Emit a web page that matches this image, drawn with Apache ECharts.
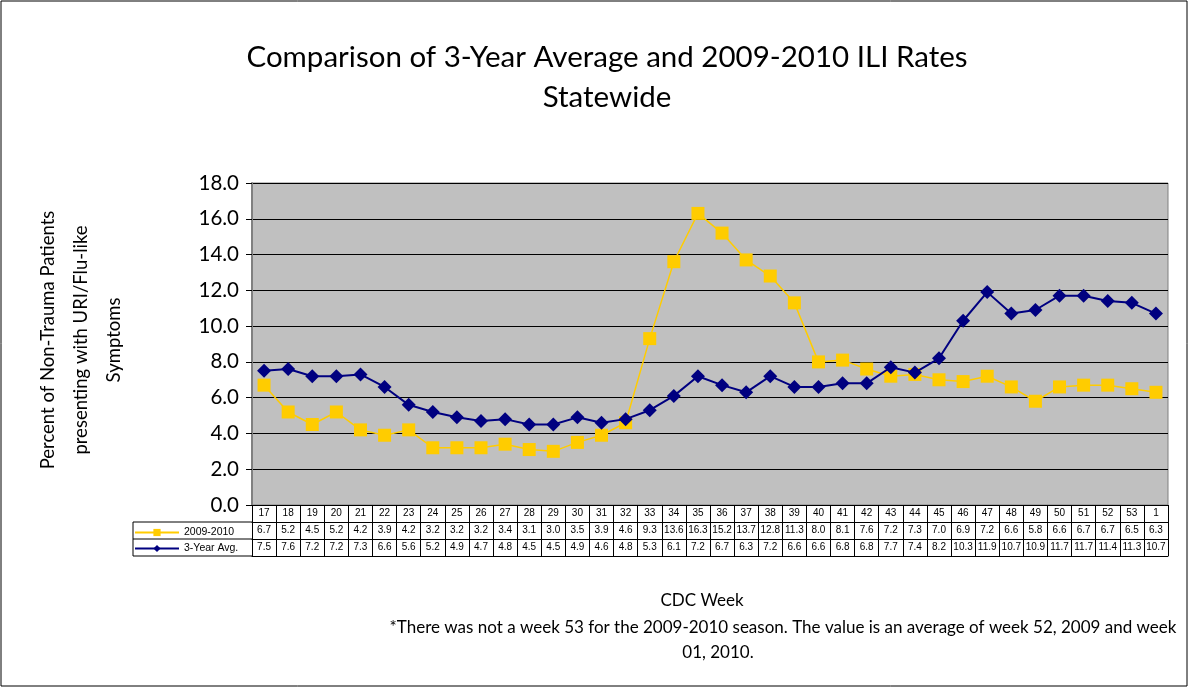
<!DOCTYPE html>
<html>
<head>
<meta charset="utf-8">
<script src="https://cdn.jsdelivr.net/npm/echarts@6/dist/echarts.min.js"></script>
<style>
html,body{margin:0;padding:0;background:#fff;}
#chart{width:1189px;height:688px;}
</style>
</head>
<body>
<div id="chart"></div>
<script>
// ---- data ----
const weeks = ['17','18','19','20','21','22','23','24','25','26','27','28','29','30','31','32','33','34','35','36','37','38','39','40','41','42','43','44','45','46','47','48','49','50','51','52','53','1'];
const season0910 = [6.7,5.2,4.5,5.2,4.2,3.9,4.2,3.2,3.2,3.2,3.4,3.1,3.0,3.5,3.9,4.6,9.3,13.6,16.3,15.2,13.7,12.8,11.3,8.0,8.1,7.6,7.2,7.3,7.0,6.9,7.2,6.6,5.8,6.6,6.7,6.7,6.5,6.3];
const avg3yr = [7.5,7.6,7.2,7.2,7.3,6.6,5.6,5.2,4.9,4.7,4.8,4.5,4.5,4.9,4.6,4.8,5.3,6.1,7.2,6.7,6.3,7.2,6.6,6.6,6.8,6.8,7.7,7.4,8.2,10.3,11.9,10.7,10.9,11.7,11.7,11.4,11.3,10.7];
const yTicks = {min: 0, max: 18, interval: 2};
const seriesNames = ['2009-2010', '3-Year Avg.'];
const titleLines = ['Comparison of 3-Year Average and 2009-2010 ILI Rates', 'Statewide'];
const yName = ['Percent of Non-Trauma Patients', 'presenting with URI/Flu-like', 'Symptoms'];
const xName = 'CDC Week';
const footnote = ['*There was not a week 53 for the 2009-2010 season. The value is an average of week 52, 2009 and week', '01, 2010.'];

// ---- layout ----
const G = {left: 252, right: 21, top: 183, bottom: 183};
const ROW = 17;
const plotBottom = 688 - G.bottom;
const tableLeft = 133;
const FONT = 'Lato';
const TFONT = 'Liberation Sans';

const chart = echarts.init(document.getElementById('chart'));

function rowAxis(offset, labelFn) {
  return {
    type: 'category', data: weeks, position: 'bottom', offset: offset, gridIndex: 0,
    boundaryGap: true,
    axisLine: {show: true, lineStyle: {color: '#000', width: 1}},
    axisTick: {show: true, interval: 0, length: ROW, alignWithLabel: false, lineStyle: {color: '#000', width: 1}},
    axisLabel: {show: true, interval: 0, margin: 3, fontSize: 10, fontFamily: TFONT, color: '#000', formatter: labelFn},
    splitLine: {show: false}
  };
}

const option = {
  animation: false,
  backgroundColor: '#fff',
  title: [
    {text: titleLines.join('\n'), left: 602, top: 32, textAlign: 'center',
     textStyle: {fontFamily: FONT, fontWeight: 'normal', fontSize: 29.5, color: '#000', lineHeight: 40}},
    {text: xName, left: 697, top: 587, textAlign: 'center',
     textStyle: {fontFamily: FONT, fontWeight: 'normal', fontSize: 17, color: '#000'}},
    {text: footnote[0], left: 778, top: 614, textAlign: 'center',
     textStyle: {fontFamily: FONT, fontWeight: 'normal', fontSize: 17, color: '#000'}},
    {text: footnote[1], left: 713, top: 639, textAlign: 'center',
     textStyle: {fontFamily: FONT, fontWeight: 'normal', fontSize: 17, color: '#000'}}
  ],
  legend: {
    orient: 'vertical', left: 134, top: 527, itemGap: 5, itemWidth: 44, itemHeight: 9, padding: 0,
    textStyle: {fontFamily: TFONT, fontSize: 10.5, color: '#000'},
    data: seriesNames
  },
  grid: {left: G.left, right: G.right, top: G.top, bottom: G.bottom, show: true,
         backgroundColor: '#C0C0C0', borderColor: '#808080', borderWidth: 1, containLabel: false},
  xAxis: [
    rowAxis(0, (v) => v),
    rowAxis(ROW, (v, i) => season0910[i].toFixed(1)),
    rowAxis(ROW * 2, (v, i) => avg3yr[i].toFixed(1)),
    {type: 'category', data: weeks, position: 'bottom', offset: ROW * 3,
     axisLine: {show: true, lineStyle: {color: '#000', width: 1}},
     axisTick: {show: false}, axisLabel: {show: false}, splitLine: {show: false}}
  ],
  yAxis: {
    type: 'value', min: yTicks.min, max: yTicks.max, interval: yTicks.interval,
    axisLine: {show: true, lineStyle: {color: '#808080', width: 2}},
    axisTick: {show: true, length: 6, lineStyle: {color: '#000'}},
    axisLabel: {fontFamily: FONT, fontSize: 20.5, color: '#000', margin: 13,
                formatter: (v) => v.toFixed(1)},
    splitLine: {show: true, lineStyle: {color: '#000', width: 1}}
  },
  series: [
    {name: seriesNames[0], type: 'line', data: season0910, xAxisIndex: 0,
     symbol: 'rect', symbolSize: 13,
     itemStyle: {color: '#FFCC00'}, lineStyle: {color: '#FFCC00', width: 1.5}, z: 3},
    {name: seriesNames[1], type: 'line', data: avg3yr, xAxisIndex: 0,
     symbol: 'diamond', symbolSize: 14,
     itemStyle: {color: '#000080'}, lineStyle: {color: '#000080', width: 2}, z: 4}
  ],
  graphic: [
    {type: 'rect', shape: {x: 1, y: 1, width: 1186, height: 685}, style: {fill: null, stroke: '#000', lineWidth: 1}, silent: true},
    {type: 'line', shape: {x1: tableLeft, y1: plotBottom + ROW, x2: G.left, y2: plotBottom + ROW}, style: {stroke: '#000', lineWidth: 1}},
    {type: 'line', shape: {x1: tableLeft, y1: plotBottom + ROW * 2, x2: G.left, y2: plotBottom + ROW * 2}, style: {stroke: '#000', lineWidth: 1}},
    {type: 'line', shape: {x1: tableLeft, y1: plotBottom + ROW * 3, x2: G.left, y2: plotBottom + ROW * 3}, style: {stroke: '#000', lineWidth: 1}},
    {type: 'line', shape: {x1: tableLeft, y1: plotBottom + ROW, x2: tableLeft, y2: plotBottom + ROW * 3}, style: {stroke: '#000', lineWidth: 1}},
    {type: 'text', x: 81, y: 340, rotation: Math.PI / 2,
     style: {text: yName.join('\n'), fontFamily: FONT, fontSize: 18.5, lineHeight: 33, fill: '#000',
             textAlign: 'center', textVerticalAlign: 'middle', align: 'center', verticalAlign: 'middle'}}
  ]
};
chart.setOption(option);
</script>
</body>
</html>
